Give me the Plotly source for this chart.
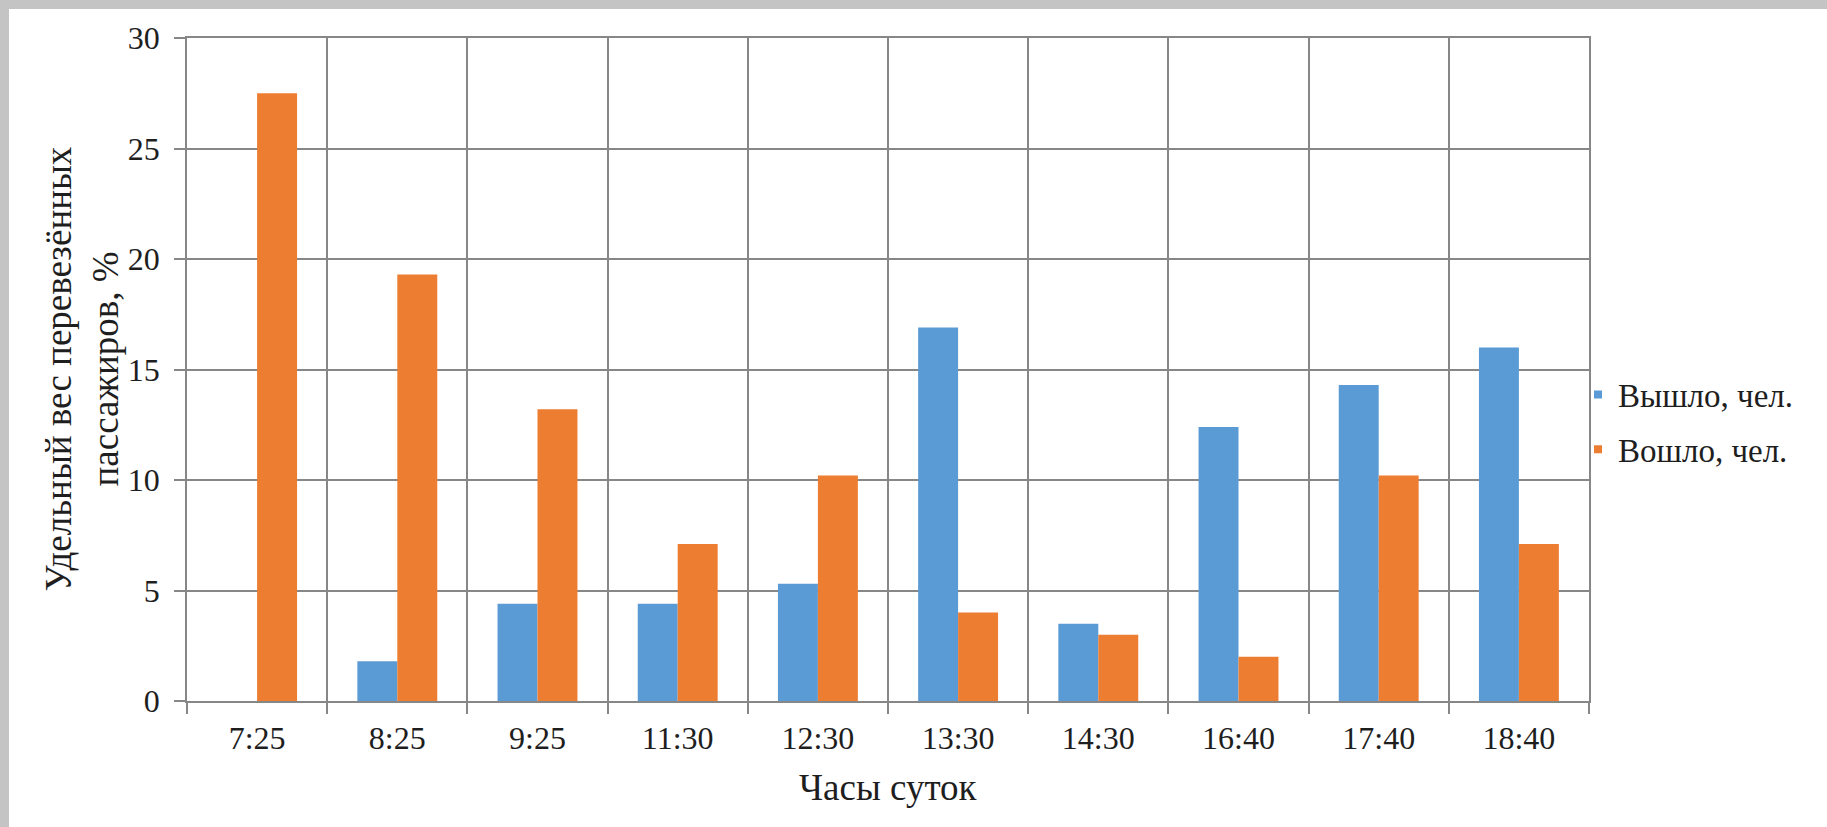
import plotly.graph_objects as go

# Time slots along the route
times = ["7:25", "8:25", "9:25", "11:30", "12:30", "13:30", "14:30", "16:40", "17:40", "18:40"]

# Share of passengers, %
vyshlo = [0, 1.8, 4.4, 4.4, 5.3, 16.9, 3.5, 12.4, 14.3, 16.0]   # alighted
voshlo = [27.5, 19.3, 13.2, 7.1, 10.2, 4.0, 3.0, 2.0, 10.2, 7.1]  # boarded

series_names = ["Вышло, чел.", "Вошло, чел."]
y_ticks = [0, 5, 10, 15, 20, 25, 30]

BLUE = "#5B9BD5"
ORANGE = "#ED7D31"
GRID = "#878787"
TEXT = "#1e1e1e"
FONT = "'Liberation Serif', 'DejaVu Serif', serif"

W, H = 1827, 827
L, R, T, B = 187, 238, 38, 126
pw, ph = W - L - R, H - T - B

fig = go.Figure()
for name, vals, col in zip(series_names, [vyshlo, voshlo], [BLUE, ORANGE]):
    fig.add_trace(go.Bar(x=times, y=vals, name=name, marker=dict(color=col, line=dict(width=0)),
                         showlegend=False))
    # small square legend swatch
    fig.add_trace(go.Scatter(x=[None], y=[None], mode="markers", name=name, legendgroup=name,
                             marker=dict(symbol="square", size=8, color=col)))

axis_common = dict(showline=True, linecolor=GRID, linewidth=1.5, mirror=True,
                   gridcolor=GRID, gridwidth=1.5, ticks="outside", tickcolor=GRID,
                   tickwidth=1.5, ticklen=11,
                   tickfont=dict(family=FONT, size=32, color=TEXT))

fig.update_xaxes(type="category", tickson="boundaries", showgrid=True,
                 ticklabelstandoff=8, **axis_common)
fig.update_yaxes(range=[0, 30], tickvals=y_ticks, showgrid=True, zeroline=False,
                 ticklabelstandoff=8, **axis_common)


def px_x(p):
    return (p - L) / pw


def px_y(p):
    return (H - B - p) / ph


# outer frame strips (top and left)
fig.add_shape(type="rect", xref="paper", yref="paper", x0=px_x(0), x1=px_x(W), y0=px_y(9), y1=px_y(0),
              fillcolor="#c4c4c4", line=dict(width=0), layer="below")
fig.add_shape(type="rect", xref="paper", yref="paper", x0=px_x(0), x1=px_x(9), y0=px_y(H), y1=px_y(0),
              fillcolor="#c4c4c4", line=dict(width=0), layer="below")

# axis titles
fig.add_annotation(text="Часы суток", xref="paper", yref="paper", x=0.5, y=px_y(787),
                   showarrow=False, font=dict(family=FONT, size=37, color=TEXT),
                   xanchor="center", yanchor="middle")
fig.add_annotation(text="Удельный вес перевезённых", xref="paper", yref="paper",
                   x=px_x(58), y=0.5, textangle=-90, showarrow=False,
                   font=dict(family=FONT, size=37, color=TEXT), xanchor="center", yanchor="middle")
fig.add_annotation(text="пассажиров, %", xref="paper", yref="paper",
                   x=px_x(105), y=0.5, textangle=-90, showarrow=False,
                   font=dict(family=FONT, size=37, color=TEXT), xanchor="center", yanchor="middle")

fig.update_layout(
    width=W, height=H,
    margin=dict(l=L, r=R, t=T, b=B, pad=0),
    paper_bgcolor="white", plot_bgcolor="white",
    barmode="group", bargap=0.43, bargroupgap=0,
    font=dict(family=FONT, color=TEXT),
    legend=dict(x=px_x(1578), y=px_y(422), xanchor="left", yanchor="middle",
                font=dict(family=FONT, size=33, color=TEXT), traceorder="grouped",
                tracegroupgap=9, bgcolor="rgba(0,0,0,0)", itemsizing="trace"),
    showlegend=True,
)

fig.write_html("out.html")
